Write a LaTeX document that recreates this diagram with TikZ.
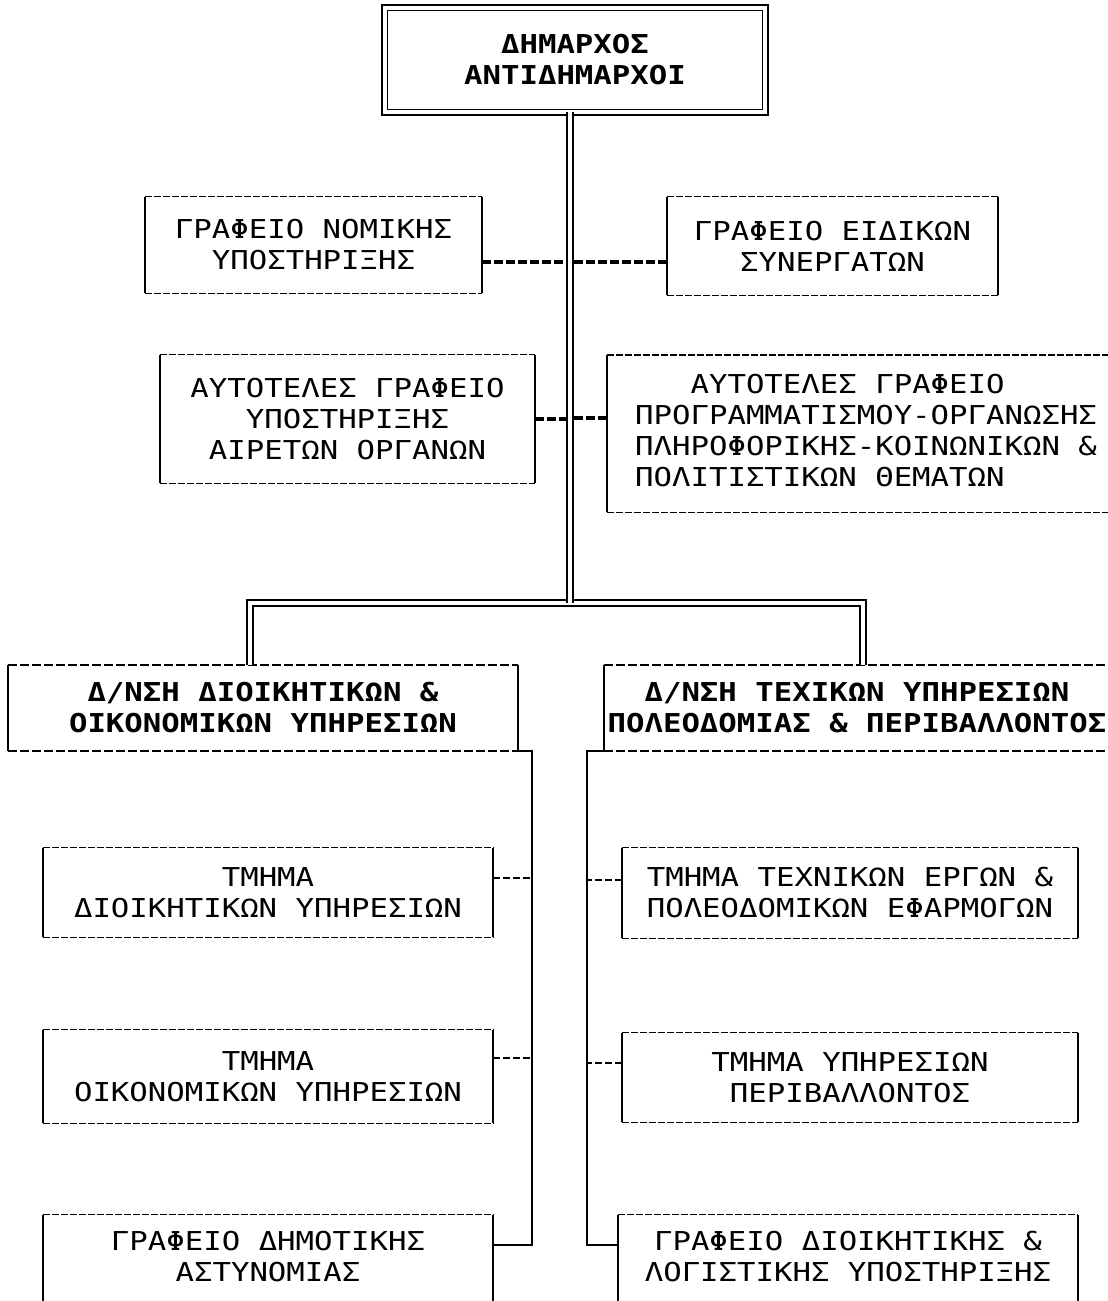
\documentclass[tikz,border=0pt]{standalone}
\usepackage{fontspec}
\newfontfamily\dmono[FakeStretch=1.18]{DejaVu Sans Mono}
\tikzset{
 bx/.style={inner sep=0pt, align=center, font=\dmono\fontsize{26}{31}\selectfont, text=black},
 bxb/.style={bx, font=\dmono\bfseries\fontsize{26}{31}\selectfont},
 hedge/.style={line width=1.3pt, dash pattern=on 7pt off 2pt},
 hedgeb/.style={line width=1.8pt, dash pattern=on 9pt off 3pt},
 vedge/.style={line width=2pt},
 dbl/.style={double, line width=1.6pt, double distance=4pt},
 thk/.style={line width=3.5pt, dash pattern=on 9pt off 3pt},
 thn/.style={line width=1.7pt, dash pattern=on 7pt off 3pt},
 vln/.style={line width=2.3pt},
}
\newcommand\orgframe[2][hedge]{%
 \draw[#1] (#2.north west) -- (#2.north east) (#2.south west) -- (#2.south east);
 \draw[vedge] (#2.north west) -- (#2.south west) (#2.north east) -- (#2.south east);}
\newcommand\orgopenframe[1]{%
 \draw[hedge] (#1.north west) -- (#1.north east);
 \draw[vedge] (#1.north west) -- ([yshift=-20pt]#1.south west) (#1.north east) -- ([yshift=-20pt]#1.south east);}
\begin{document}
\begin{tikzpicture}[x=1pt,y=-1pt]
\clip (0,0) rectangle (1108,1301);
\fill[white] (0,0) rectangle (1108,1301);

% nodes
\node[bxb, minimum width=380pt, minimum height=104pt] (top) at (575,60) {ΔΗΜΑΡΧΟΣ\\ΑΝΤΙΔΗΜΑΡΧΟΙ};
\node[bx, minimum width=337pt, minimum height=96pt] (nom) at (313.5,245) {ΓΡΑΦΕΙΟ ΝΟΜΙΚΗΣ\\ΥΠΟΣΤΗΡΙΞΗΣ};
\node[bx, minimum width=331pt, minimum height=98pt] (eid) at (832.5,246) {ΓΡΑΦΕΙΟ ΕΙΔΙΚΩΝ\\ΣΥΝΕΡΓΑΤΩΝ};
\node[bx, minimum width=375pt, minimum height=128pt] (air) at (347.5,419) {ΑΥΤΟΤΕΛΕΣ ΓΡΑΦΕΙΟ\\ΥΠΟΣΤΗΡΙΞΗΣ\\ΑΙΡΕΤΩΝ ΟΡΓΑΝΩΝ};
\node[bx, anchor=north west, align=left, inner xsep=28pt, minimum height=151pt] (prog) at (607,355) {\phantom{ΑΑΑ}ΑΥΤΟΤΕΛΕΣ ΓΡΑΦΕΙΟ\\ΠΡΟΓΡΑΜΜΑΤΙΣΜΟΥ-ΟΡΓΑΝΩΣΗΣ\\ΠΛΗΡΟΦΟΡΙΚΗΣ-ΚΟΙΝΩΝΙΚΩΝ \&\\ΠΟΛΙΤΙΣΤΙΚΩΝ ΘΕΜΑΤΩΝ};
\node[bxb, minimum width=510pt, minimum height=86pt] (ddo) at (263,708) {Δ/ΝΣΗ ΔΙΟΙΚΗΤΙΚΩΝ \&\\ΟΙΚΟΝΟΜΙΚΩΝ ΥΠΗΡΕΣΙΩΝ};
\node[bxb, minimum width=506pt, minimum height=86pt] (dte) at (857,708) {Δ/ΝΣΗ ΤΕΧΙΚΩΝ ΥΠΗΡΕΣΙΩΝ\\ΠΟΛΕΟΔΟΜΙΑΣ \& ΠΕΡΙΒΑΛΛΟΝΤΟΣ};
\node[bx, minimum width=450pt, minimum height=89pt] (t1) at (268,892.5) {ΤΜΗΜΑ\\ΔΙΟΙΚΗΤΙΚΩΝ ΥΠΗΡΕΣΙΩΝ};
\node[bx, minimum width=450pt, minimum height=93pt] (t2) at (268,1076.5) {ΤΜΗΜΑ\\ΟΙΚΟΝΟΜΙΚΩΝ ΥΠΗΡΕΣΙΩΝ};
\node[bx, minimum width=450pt, minimum height=83pt] (t3) at (268,1256.5) {ΓΡΑΦΕΙΟ ΔΗΜΟΤΙΚΗΣ\\ΑΣΤΥΝΟΜΙΑΣ};
\node[bx, minimum width=456pt, minimum height=90pt] (r1) at (850,893) {ΤΜΗΜΑ ΤΕΧΝΙΚΩΝ ΕΡΓΩΝ \&\\ΠΟΛΕΟΔΟΜΙΚΩΝ ΕΦΑΡΜΟΓΩΝ};
\node[bx, minimum width=456pt, minimum height=89pt] (r2) at (850,1077.5) {ΤΜΗΜΑ ΥΠΗΡΕΣΙΩΝ\\ΠΕΡΙΒΑΛΛΟΝΤΟΣ};
\node[bx, minimum width=460pt, minimum height=83pt] (r3) at (848,1256.5) {ΓΡΑΦΕΙΟ ΔΙΟΙΚΗΤΙΚΗΣ \&\\ΛΟΓΙΣΤΙΚΗΣ ΥΠΟΣΤΗΡΙΞΗΣ};

% frames
\draw[dbl] (top.north west) rectangle (top.south east);
\orgframe{nom}
\orgframe{eid}
\orgframe{air}
\coordinate (progsw) at ([yshift=-6pt]prog.south west);
\draw[hedge] (prog.north west) -- ++(520,0) (progsw) -- ++(520,0);
\draw[vedge] (prog.north west) -- (progsw);
\orgframe[hedgeb]{ddo}
\draw[hedgeb] (dte.north west) -- ++(520,0) (dte.south west) -- ++(520,0);
\draw[vedge] (dte.north west) -- (dte.south west);
\orgframe{t1}
\orgframe{t2}
\orgopenframe{t3}
\orgframe{r1}
\orgframe{r2}
\orgopenframe{r3}

% junction coordinates
\coordinate (jt) at (570,603);
\coordinate (bl) at (250,603);
\coordinate (br) at (863,603);
\coordinate (lv) at (532,760);
\coordinate (rv) at (587,760);
\coordinate (nomc) at ([yshift=-17pt]nom.east);
\coordinate (eidc) at ([yshift=-16pt]eid.west);
\coordinate (progc) at ([yshift=12.5pt]prog.west);
\coordinate (t1c) at ([yshift=14.5pt]t1.east);
\coordinate (t2c) at ([yshift=18.5pt]t2.east);
\coordinate (t3c) at ([yshift=11.5pt]t3.east);
\coordinate (r1c) at ([yshift=13pt]r1.west);
\coordinate (r2c) at ([yshift=14.5pt]r2.west);
\coordinate (r3c) at ([yshift=11.5pt]r3.west);

% staff connectors
\draw[thk] (nomc) -- (nomc -| jt);
\draw[thk] (eidc) -- (eidc -| jt);
\draw[thk] (air.east) -- (air.east -| jt);
\draw[thk] (progc) -- (progc -| jt);

% main structure
\draw[dbl] (bl |- ddo.north) -- (bl) -- (br) -- (br |- dte.north);
\draw[dbl] (top.south -| jt) -- (jt);

% lower branches
\draw[vln] (ddo.south east) -- (ddo.south east -| lv) -- (lv |- t3c) -- (t3c);
\draw[thn] (t1c) -- (t1c -| lv);
\draw[thn] (t2c) -- (t2c -| lv);
\draw[vln] (dte.south west) -- (dte.south west -| rv) -- (rv |- r3c) -- (r3c);
\draw[thn] (r1c) -- (r1c -| rv);
\draw[thn] (r2c) -- (r2c -| rv);
\end{tikzpicture}
\end{document}
